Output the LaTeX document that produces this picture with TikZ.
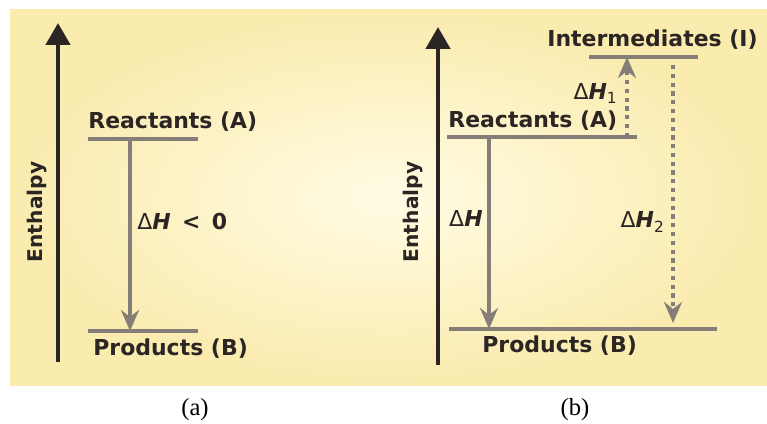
\documentclass[tikz,border=0pt]{standalone}
\usepackage{fontspec}
\setmainfont{DejaVu Sans}
\newfontfamily\capfont{Liberation Serif}
\usetikzlibrary{arrows.meta}
\definecolor{bgin}{HTML}{FFFCE4}
\definecolor{bgout}{HTML}{FAEBAE}
\definecolor{ink}{HTML}{2B2523}
\definecolor{lvl}{HTML}{857D77}

\begin{document}
\begin{tikzpicture}[every node/.style={font=\fontsize{12.5}{15}\selectfont\bfseries, text=ink, inner sep=0pt},
  axis/.style={line width=2.6pt, ink, -{Triangle[length=0.44cm, width=0.48cm]}},
  enth/.style={rotate=90, font=\fontsize{11.5}{14}\selectfont\bfseries},
  level/.style={line width=2.5pt, lvl},
  dh/.style={line width=2.3pt, lvl, -{Stealth[length=0.42cm, width=0.36cm, inset=0.14cm]}},
  dhdot/.style={dh, dash pattern=on 2.4pt off 2.6pt},
  lab/.style={anchor=base west},
  labr/.style={anchor=base east},
  subcap/.style={font=\capfont\fontsize{14}{16}\selectfont, text=black}]
\useasboundingbox (0,0) rectangle (15.34,8.46);
\shade[inner color=bgin, outer color=bgout] (0.2,0.76) rectangle (15.34,8.26);

% (a) one step
\coordinate (a-ax0) at (1.16,1.22);
\coordinate (a-ax1) at (1.16,8.00);
\draw[axis] (a-ax0) -- (a-ax1);
\node[enth] (a-enth) at (0.74,4.22) {Enthalpy};
\coordinate (a-r0) at (1.76,5.68);
\coordinate (a-r1) at (3.96,5.68);
\coordinate (a-p0) at (1.76,1.84);
\coordinate (a-p1) at (3.96,1.84);
\draw[level] (a-r0) -- (a-r1);
\draw[level] (a-p0) -- (a-p1);
\node[lab] (a-rlab) at (1.76,5.88) {Reactants (A)};
\node[lab] (a-plab) at (1.86,1.36) {Products (B)};
\coordinate (a-d0) at (2.60,5.68);
\draw[dh] (a-d0) -- (a-d0 |- a-p0);
\node[lab] (a-dlab) at (2.74,3.86) {{\mdseries Δ}\textit{H}\, <\, 0};
\node[subcap] (a-cap) at (3.9,0.26) {(a)};

% (b) via intermediates
\coordinate (b-ax0) at (8.76,1.16);
\coordinate (b-ax1) at (8.76,7.92);
\draw[axis] (b-ax0) -- (b-ax1);
\node[enth] (b-enth) at (8.26,4.22) {Enthalpy};
\coordinate (b-r0) at (8.94,5.72);
\coordinate (b-r1) at (12.74,5.72);
\coordinate (b-i0) at (11.78,7.32);
\coordinate (b-i1) at (13.96,7.32);
\coordinate (b-p0) at (8.98,1.88);
\coordinate (b-p1) at (14.34,1.88);
\draw[level] (b-r0) -- (b-r1);
\draw[level] (b-i0) -- (b-i1);
\draw[level] (b-p0) -- (b-p1);
\node[lab] (b-rlab) at (8.96,5.90) {Reactants (A)};
\node[lab] (b-ilab) at (10.94,7.52) {Intermediates (I)};
\node[lab] (b-plab) at (9.64,1.42) {Products (B)};
\coordinate (b-d0) at (9.78,5.72);
\draw[dh] (b-d0) -- (b-d0 |- b-p0);
\node[labr] (b-dlab) at (9.66,3.92) {{\mdseries Δ}\textit{H}};
\coordinate (b-d1) at (12.54,5.72);
\draw[dhdot] (b-d1) -- (b-d1 |- b-i0);
\node[labr] (b-d1lab) at (12.36,6.46) {{\mdseries Δ}\textit{H}\textsubscript{\mdseries 1}};
\coordinate (b-d2) at (13.46,7.16);
\coordinate (b-d2end) at (13.46,2.0);
\draw[dhdot] (b-d2) -- (b-d2end);
\node[labr] (b-d2lab) at (13.3,3.9) {{\mdseries Δ}\textit{H}\textsubscript{\mdseries 2}};
\node[subcap] (b-cap) at (11.5,0.26) {(b)};
\end{tikzpicture}
\end{document}
